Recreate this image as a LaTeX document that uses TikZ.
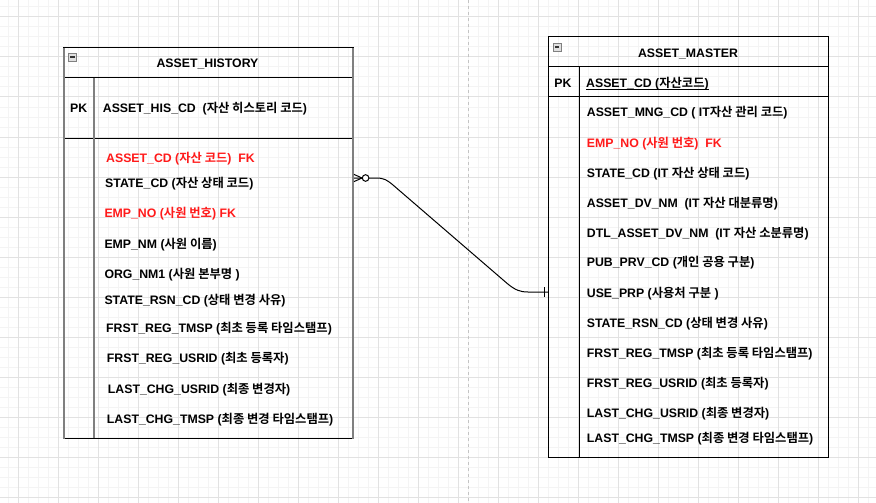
\documentclass[tikz,border=0pt]{standalone}
\usepackage{fontspec}
\setmainfont{Liberation Sans}
\newfontfamily\krfont{Noto Sans CJK KR}[BoldFont={Noto Sans CJK KR Bold}]
\newcommand\ko[1]{{\krfont #1}}
\definecolor{gridmaj}{HTML}{E2E2E2}
\definecolor{gridmin}{HTML}{F4F4F4}
\definecolor{bordergray}{HTML}{808080}
\definecolor{fkred}{HTML}{FF1A1A}
\definecolor{pagebreak}{HTML}{C4C4C4}
\begin{document}
\begin{tikzpicture}[x=1pt,y=-1pt,
  txt/.style={inner sep=0pt, font=\bfseries\fontsize{12.3}{14}\selectfont},
  fld/.style={txt, anchor=base west, text=black},
  fk/.style={fld, text=fkred},
  ttl/.style={txt, anchor=base},
  tline/.style={black, line width=1pt},
  hgray/.style={bordergray, line width=2.2pt},
  rel/.style={black, line width=1pt},
  iconbox/.style={draw=bordergray, fill=black!12, line width=0.9pt},
]
\useasboundingbox (0,0) rectangle (876,503);
\fill[white] (0,0) rectangle (876,503);
% grid
\foreach \x in {8,18,...,868} \draw[gridmin, line width=1pt] (\x,0) -- (\x,503);
\foreach \y in {7,17,...,497} \draw[gridmin, line width=1pt] (0,\y) -- (876,\y);
\foreach \x in {18,58,...,858} \draw[gridmaj, line width=1pt] (\x,0) -- (\x,503);
\foreach \y in {17,57,...,497} \draw[gridmaj, line width=1pt] (0,\y) -- (876,\y);
\draw[pagebreak, line width=1pt, dash pattern=on 3pt off 3pt] (468,0) -- (468,503);

% ---------------- ASSET_HISTORY ----------------
\draw[tline] (63,48) -- (354,48);
\draw[tline] (64,78) -- (353,78);
\draw[tline] (64,138) -- (353,138);
\draw[tline] (64,438) -- (353,438);
\draw[hgray] (64,48) -- (64,438.5);
\draw[hgray] (353,48) -- (353,438.5);
\draw[hgray] (94,78) -- (94,438);
\draw[iconbox] (68.5,53) rectangle (76.5,61);
\draw[black!80, line width=1.3pt] (70.3,57) -- (74.7,57);
\node[ttl] (htitle) at (207.5,67.7) {ASSET\_HISTORY};
\node[ttl] (hpk) at (78.7,112.7) {PK};
\node[fld] (hpkf) at (102.7,112.7) {ASSET\_HIS\_CD \ (\ko{자산 히스토리 코드})};
\node[fk]  (h1) at (106,162.7) {ASSET\_CD (\ko{자산 코드}) \ FK};
\node[fld] (h2) at (105,187.7) {STATE\_CD (\ko{자산 상태 코드})};
\node[fk]  (h3) at (104.3,217.1) {EMP\_NO (\ko{사원 번호}) FK};
\node[fld] (h4) at (104.3,248.7) {EMP\_NM (\ko{사원 이름})};
\node[fld] (h5) at (104.3,278.7) {ORG\_NM1 (\ko{사원 본부명} )};
\node[fld] (h6) at (104.3,304.4) {STATE\_RSN\_CD (\ko{상태 변경 사유})};
\node[fld] (h7) at (106,332.1) {FRST\_REG\_TMSP (\ko{최초 등록 타임스탬프})};
\node[fld] (h8) at (106.7,362.1) {FRST\_REG\_USRID (\ko{최초 등록자})};
\node[fld] (h9) at (107.7,393.4) {LAST\_CHG\_USRID (\ko{최종 변경자})};
\node[fld] (h10) at (106.7,423.4) {LAST\_CHG\_TMSP (\ko{최종 변경 타임스탬프})};

% ---------------- ASSET_MASTER ----------------
\draw[tline] (548,37) rectangle (828,457);
\draw[tline] (548,67) -- (828,67);
\draw[tline] (548,97) -- (828,97);
\draw[tline] (579,67) -- (579,457);
\draw[iconbox] (553,43) rectangle (561,51);
\draw[black!80, line width=1.3pt] (554.8,47) -- (559.2,47);
\node[ttl] (mtitle) at (688,57.1) {ASSET\_MASTER};
\node[ttl] (mpk) at (563,87.1) {PK};
\node[fld] (mpkf) at (586,87.1) {ASSET\_CD (\ko{자산코드})};
\draw[black, line width=0.8pt] ([yshift=-2.4pt]mpkf.base west) -- ([yshift=-2.4pt]mpkf.base east);
\node[fld] (m1) at (586.7,116.1) {ASSET\_MNG\_CD ( IT\ko{자산 관리 코드})};
\node[fk]  (m2) at (586.7,147.1) {EMP\_NO (\ko{사원 번호}) \ FK};
\node[fld] (m3) at (586.7,177.1) {STATE\_CD (IT \ko{자산 상태 코드})};
\node[fld] (m4) at (586.7,207.7) {ASSET\_DV\_NM \ (IT \ko{자산 대분류명})};
\node[fld] (m5) at (586.7,237.1) {DTL\_ASSET\_DV\_NM \ (IT \ko{자산 소분류명})};
\node[fld] (m6) at (586.7,266.1) {PUB\_PRV\_CD (\ko{개인 공용 구분})};
\node[fld] (m7) at (586.7,297.1) {USE\_PRP (\ko{사용처 구분} )};
\node[fld] (m8) at (586.7,327.7) {STATE\_RSN\_CD (\ko{상태 변경 사유})};
\node[fld] (m9) at (586.7,357.7) {FRST\_REG\_TMSP (\ko{최초 등록 타임스탬프})};
\node[fld] (m10) at (586.7,387.1) {FRST\_REG\_USRID (\ko{최초 등록자})};
\node[fld] (m11) at (586.7,417.1) {LAST\_CHG\_USRID (\ko{최종 변경자})};
\node[fld] (m12) at (586.7,442.7) {LAST\_CHG\_TMSP (\ko{최종 변경 타임스탬프})};

% ---------------- relationship ----------------
\coordinate (ra) at (354,178);
\coordinate (rb) at (548,292);
\coordinate (cf) at (362,178);
\draw[rel] (ra) -- (376,178) .. controls (384,178) and (387,180) .. (393,185)
  -- (507,283.3) .. controls (515,290) and (520,292) .. (528,292) -- (rb);
\draw[rel] ([yshift=3.6pt]ra) -- (cf) -- ([yshift=-3.6pt]ra);
\draw[rel, fill=white] (365.6,178) circle (3.3pt);
\draw[rel] (544,287) -- (544,297);
\end{tikzpicture}
\end{document}
